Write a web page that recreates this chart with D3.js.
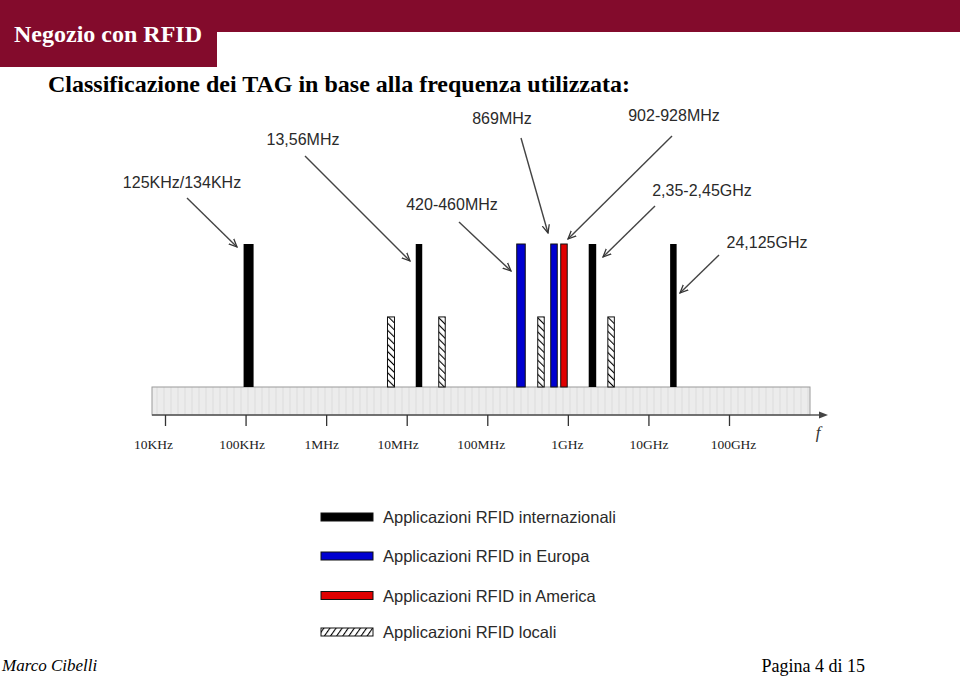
<!DOCTYPE html>
<html><head><meta charset="utf-8">
<script src="https://cdn.jsdelivr.net/npm/d3@7"></script>
<style>body{margin:0;background:#fff}svg{display:block}</style>
</head><body>
<svg id="c" width="960" height="678"></svg>
<script>
// ---------- DATA ----------
const tickValues = [1e4, 1e5, 1e6, 1e7, 1e8, 1e9, 1e10, 1e11];
const tickLabels = ["10KHz", "100KHz", "1MHz", "10MHz", "100MHz", "1GHz", "10GHz", "100GHz"];
// bars: frequency position, category, relative height
const barFreqs  = [1.09e5, 6.38e6, 1.42e7, 2.74e7, 2.62e8, 4.64e8, 6.73e8, 8.95e8, 2.02e9, 3.44e9, 2.04e10];
const barTypes  = ["int", "loc", "int", "loc", "eu", "loc", "eu", "us", "int", "loc", "int"];
const barLevels = [1, 0.49, 1, 0.49, 1, 0.49, 1, 1, 1, 0.49, 1];
const annotationLabels = ["125KHz/134KHz", "13,56MHz", "420-460MHz", "869MHz", "902-928MHz", "2,35-2,45GHz", "24,125GHz"];
const legendTypes  = ["int", "eu", "us", "loc"];
const legendLabels = ["Applicazioni RFID internazionali", "Applicazioni RFID in Europa", "Applicazioni RFID in America", "Applicazioni RFID locali"];

// ---------- STYLE / LAYOUT ----------
const maroon = "#830b2c";
const fills = {int: "#000", eu: "#0000d0", us: "#e00000", loc: "url(#hatch)"};
const barWidths = [10, 7, 6.5, 6.5, 8.5, 6.5, 6.5, 6.5, 7.5, 6.5, 6.5];
const tickLabelDx = [-12, -4, -5, -9, -6.5, -1, 0, 4];
// annotation layout: text x,y (center baseline-ish), arrow start and end
const annoLayout = [
  {tx:182, ty:188, x1:187, y1:198, x2:237, y2:247},
  {tx:303, ty:145, x1:305, y1:156, x2:410, y2:261},
  {tx:452, ty:210, x1:459, y1:222, x2:511, y2:271},
  {tx:502, ty:124, x1:521, y1:138, x2:548, y2:233},
  {tx:674, ty:121, x1:672, y1:136, x2:568, y2:239},
  {tx:702, ty:196, x1:655, y1:206, x2:603, y2:257},
  {tx:767, ty:248, x1:719, y1:255, x2:680, y2:293}
];
const legendRowY = [517, 556, 595.5, 632];

const svg = d3.select("#c");
const defs = svg.append("defs");
const hp = defs.append("pattern").attr("id","hatch").attr("patternUnits","userSpaceOnUse")
  .attr("width",5).attr("height",5).attr("patternTransform","rotate(-45)");
hp.append("rect").attr("width",5).attr("height",5).attr("fill","#fff");
hp.append("line").attr("x1",0).attr("y1",0).attr("x2",0).attr("y2",5).attr("stroke","#000").attr("stroke-width",2.2);
const hp2 = defs.append("pattern").attr("id","hatch2").attr("patternUnits","userSpaceOnUse")
  .attr("width",5).attr("height",5).attr("patternTransform","rotate(35)");
hp2.append("rect").attr("width",5).attr("height",5).attr("fill","#fff");
hp2.append("line").attr("x1",0).attr("y1",0).attr("x2",0).attr("y2",5).attr("stroke","#000").attr("stroke-width",2.2);
const bp = defs.append("pattern").attr("id","bandtex").attr("patternUnits","userSpaceOnUse")
  .attr("width",7).attr("height",30);
bp.append("rect").attr("width",7).attr("height",30).attr("fill","#ececec");
bp.append("line").attr("x1",3).attr("y1",0).attr("x2",3).attr("y2",30).attr("stroke","#dcdcdc").attr("stroke-width",1);
defs.append("marker").attr("id","arr").attr("viewBox","0 0 10 10").attr("refX",9).attr("refY",5)
  .attr("markerWidth",9).attr("markerHeight",9).attr("markerUnits","userSpaceOnUse").attr("orient","auto")
  .append("path").attr("d","M0,1 L9,5 L0,9").attr("fill","none").attr("stroke","#333").attr("stroke-width",1.4);

// ---------- HEADER ----------
svg.append("rect").attr("x",0).attr("y",0).attr("width",960).attr("height",32).attr("fill",maroon);
svg.append("rect").attr("x",0).attr("y",0).attr("width",217).attr("height",67).attr("fill",maroon);
svg.append("text").attr("x",14).attr("y",42).text("Negozio con RFID")
  .attr("font-family","Liberation Serif").attr("font-weight","bold").attr("font-size",24).attr("fill","#fff");
svg.append("text").attr("x",48).attr("y",92).text("Classificazione dei TAG in base alla frequenza utilizzata:")
  .attr("font-family","Liberation Serif").attr("font-weight","bold").attr("font-size",24).attr("fill","#000");

// ---------- SCALES ----------
const x = d3.scaleLog().domain([1e4, 1e11]).range([165, 729]);
const y = d3.scaleLinear().domain([0, 1]).range([387, 244]);

// band
svg.append("rect").attr("x",152).attr("y",387).attr("width",658).attr("height",28)
  .attr("fill","url(#bandtex)").attr("stroke","#9a9a9a").attr("stroke-width",1);
// axis line with arrow
svg.append("line").attr("x1",152).attr("y1",415).attr("x2",822).attr("y2",415).attr("stroke","#555").attr("stroke-width",1.3);
svg.append("path").attr("d","M828,415 L819,411.5 L819,418.5 Z").attr("fill","#444");
svg.append("text").attr("x",818).attr("y",438).text("f").attr("font-family","Liberation Serif")
  .attr("font-style","italic").attr("font-size",17).attr("fill","#333").attr("text-anchor","middle");

const ax = svg.append("g").attr("transform","translate(0,415)")
  .call(d3.axisBottom(x).tickValues(tickValues).tickFormat((d,i)=>tickLabels[i]).tickSize(11));
ax.select(".domain").remove();
ax.selectAll(".tick line").attr("stroke","#333").attr("stroke-width",1.3);
ax.selectAll(".tick text").attr("y",34).attr("dy",0).attr("x",(d,i)=>tickLabelDx[i])
  .attr("font-family","Liberation Serif").attr("font-size",13.5).attr("fill","#222");

// bars
svg.append("g").selectAll("rect").data(barFreqs).join("rect")
  .attr("x",(d,i)=>x(d)-barWidths[i]/2).attr("width",(d,i)=>barWidths[i])
  .attr("y",(d,i)=>y(barLevels[i])).attr("height",(d,i)=>y(0)-y(barLevels[i]))
  .attr("fill",(d,i)=>fills[barTypes[i]]).attr("stroke","#111").attr("stroke-width",(d,i)=>barTypes[i]==="int"?0:1);

// annotations
const ag = svg.append("g");
annotationLabels.forEach((t,i)=>{
  const L = annoLayout[i];
  ag.append("text").attr("x",L.tx).attr("y",L.ty).attr("text-anchor","middle").text(t)
    .attr("font-family","Liberation Sans").attr("font-size",16).attr("fill","#2a2a2a");
  ag.append("line").attr("x1",L.x1).attr("y1",L.y1).attr("x2",L.x2).attr("y2",L.y2)
    .attr("stroke","#444").attr("stroke-width",1.4).attr("marker-end","url(#arr)");
});

// legend
const lg = svg.append("g");
legendTypes.forEach((t,i)=>{
  const cy = legendRowY[i];
  lg.append("rect").attr("x",321).attr("y",cy-4).attr("width",52).attr("height",8)
    .attr("fill", t==="loc" ? "url(#hatch2)" : fills[t]).attr("stroke","#111").attr("stroke-width",1);
  lg.append("text").attr("x",383).attr("y",cy+6).text(legendLabels[i])
    .attr("font-family","Liberation Sans").attr("font-size",16.5).attr("fill","#2a2a2a");
});

// footer
svg.append("text").attr("x",2).attr("y",671).text("Marco Cibelli").attr("font-family","Liberation Serif")
  .attr("font-style","italic").attr("font-size",17).attr("fill","#000");
svg.append("text").attr("x",865).attr("y",672).attr("text-anchor","end").text("Pagina 4 di 15")
  .attr("font-family","Liberation Serif").attr("font-size",18).attr("fill","#000");
</script>
</body></html>
